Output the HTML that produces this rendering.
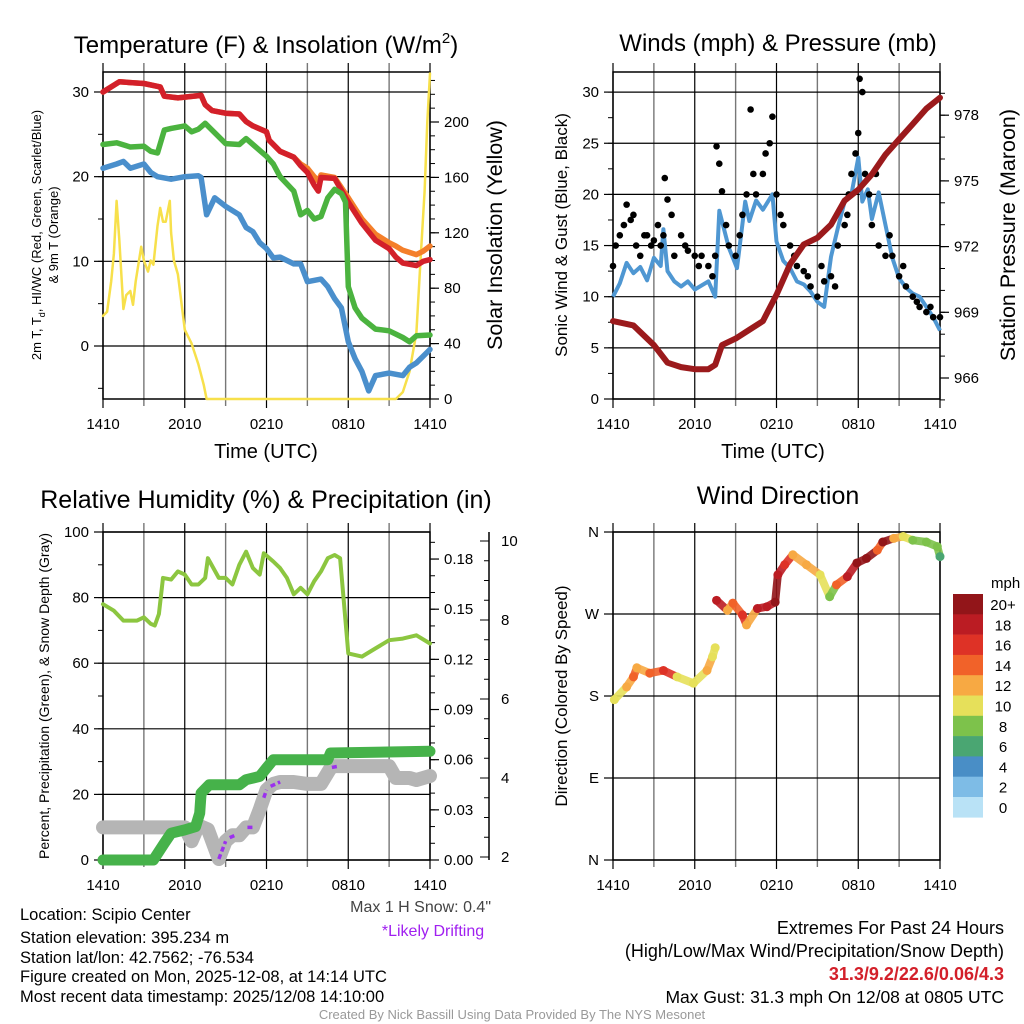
<!DOCTYPE html>
<html><head><meta charset="utf-8"><style>
body{margin:0;background:#fff}
svg{display:block;font-family:"Liberation Sans",sans-serif}
</style></head><body>
<svg id="c" width="1024" height="1024" viewBox="0 0 1024 1024" xmlns="http://www.w3.org/2000/svg"></svg>
<script>
// ---------- DATA ----------
const xTickLabels = ["1410","2010","0210","0810","1410"];
const tempHours = [0,1.2,3,4.2,4.5,5.5,6,7.2,7.5,8,9,10,10.5,11,12,12.2,13,14,14.5,15,15.5,15.8,16,17,18,19,20,21,21.5,22,23,23.5,24];
const tempRed   = [30,31.2,31,30.6,29.5,29.3,29.4,29.6,28.5,27.8,27.5,27.4,26.5,26,25.3,24.3,23,22.3,21.3,20.5,19,18.3,19.9,19.8,17,14.5,12.5,11.5,10.5,9.8,9.5,10,10.2];
const tempOrange= [30,31.2,31,30.6,29.5,29.3,29.4,29.6,28.5,27.8,27.5,27.4,26.5,26,25.3,24.3,23,22.3,21.5,21,20,19.5,20.2,19.9,17.5,15,13.2,12.2,11.8,11.3,10.8,11.2,11.8];
const dewHours = [0,1,2,3,3.5,4,4.5,5,6,6.5,7,7.5,8,9,10,10.5,11,12,12.5,13,14,14.5,15,15.5,16,16.5,17,17.5,17.8,18,18.5,19,20,21,22,22.5,23,24];
const dewGreen = [23.8,24,23.5,23.6,23,22.8,25.5,25.7,26,25.3,25.6,26.3,25.5,23.9,23.8,24.5,23.8,22.4,21.5,20,18.3,15.5,16,15,15.3,17.5,18.5,18,17,7,4.5,3.3,2,1.8,1,0.5,1.2,1.3];
const chillHours = [0,1,1.5,2,3,3.5,4,5,6,7,7.2,7.6,8.2,9,10,10.5,11,11.5,12,12.5,13,14,14.5,15,16,16.5,17,17.5,18,18.5,19,19.5,20,21,22,22.5,23,24];
const chillBlue  = [21,21.5,21.8,21,21.5,20.5,20,19.7,20,20.1,19.9,15.5,17.5,16.5,15.5,14,13.5,12.2,11.5,10.4,10.5,9.7,9.7,7.6,7.9,7,5.6,4.5,0.5,-1.5,-3,-5.3,-3.5,-3.2,-3.5,-2.5,-2,-0.4];
const solarHours = [0,0.3,0.6,0.8,1,1.2,1.5,1.7,2,2.2,2.4,2.8,3,3.3,3.5,3.7,4,4.2,4.4,4.6,4.9,5,5.2,5.5,6,6.5,7,7.4,7.6,12,21.5,22,22.5,23,23.3,23.6,23.8,24];
const solarVals  = [60,63,85,105,143,115,65,75,78,68,85,110,100,92,100,97,125,138,128,128,143,120,100,90,50,40,25,10,0,0,0,5,20,48,100,150,200,235];
const windHours = [0,0.5,1,1.5,2,2.5,3,3.5,3.7,4,4.5,5,5.5,6,7,7.5,7.8,8.5,9.1,9.7,10,10.5,11,11.7,12,12.5,13,13.5,14,14.5,15,15.5,16,16.5,17,17.5,18,18.3,18.7,19,19.5,20,20.5,21,21.5,22,22.5,23,23.5,24];
const windSonic = [10,11.3,13.3,12.3,12.9,11.6,13.8,13,16.6,12.5,11.5,11,11.5,10.7,11.5,10,18.4,14.8,12.8,19.3,17.4,19.4,18.5,20,15.4,13.5,12.8,11.5,11.2,10.5,9.5,9,13.9,16.7,19.3,20,23.6,19.3,20.5,17.6,20.2,17,13.8,11.8,10.9,10.3,10,9,8,6.7];
const gustHours = [0,0.2,0.5,0.8,1,1.3,1.5,1.7,2,2.3,2.5,2.8,3,3.3,3.5,3.7,3.8,4,4.3,4.5,5,5.3,5.5,6,6.3,6.5,7,7.3,7.5,7.6,7.8,8,8.3,8.5,9,9.3,9.5,9.8,10.1,10.3,10.5,11,11.2,11.5,11.7,12,12.3,12.5,13,13.3,13.5,14,14.3,14.5,15,15.3,15.5,16,16.3,16.5,17,17.2,17.3,17.5,17.8,18,18.1,18.3,18.5,18.8,19,19.3,19.5,20,20.3,20.5,21,21.3,21.5,22,22.3,22.5,23,23.3,23.5,24];
const gustVals  = [13,15,16,17,19,17.5,18,15,14,16,16,15,15.5,17,15,16,21.6,19.5,18,14,16,15,14.5,14,13,14,13,12,14,24.7,23,20.3,17,15,14,16,18,20,28.3,22,20,22,24,25,27.6,20,18,17,15,14,13,12.5,12,11,10,13,11.5,12,11,15,17,18,20,22,24,26,31.3,30,22,20,17,22,15,14,16,14,12,13,11,10,9.5,9,8.5,9,8,8];
const presHours = [0,1.5,3,4,5,6,7,7.5,8,9,10,11,12,13,14,15,16,17,18,19,20,21,22,23,24];
const presVals  = [968.6,968.4,967.5,966.7,966.5,966.4,966.4,966.6,967.5,967.8,968.2,968.6,969.8,971.2,972.1,972.4,973,974.1,974.6,975.3,976.2,976.9,977.6,978.3,978.8];
const rhHours = [0,0.8,1.5,2.5,3,3.5,3.8,4.1,4.4,5,5.5,6,6.5,7,7.5,7.7,8.5,9,9.5,10,10.5,11,11.5,11.8,12.5,13,13.5,14,14.5,15,15.5,16,16.5,17,17.4,18,19,20,21,22,23,24];
const rhVals  = [78,76,73,73,74,72,71.5,75,86,85.5,88,87,84,84,86,92,86,86,84,90,94,89,87,93.5,91,89,86,81,83,81,85,88,92,93,92,63,62,64.5,67,67.5,68.5,66];
const pcpHours = [0,3.7,4.5,5,6,6.8,7.1,7.2,7.8,10,10.5,11.5,12,12.5,16.5,16.7,24];
const pcpVals  = [0,0,0.01,0.016,0.018,0.02,0.028,0.04,0.045,0.045,0.048,0.05,0.055,0.06,0.06,0.064,0.065];
const snowHours = [0,6,6.5,7,7.7,8.5,9,9.5,10,10.5,11,11.5,12,12.5,13,14,15,16,16.7,17,21,21.5,22.5,23,24];
const snowVals  = [2.75,2.75,2.4,2.8,2.7,1.95,2.4,2.55,2.55,2.75,2.75,3.2,3.7,3.85,3.9,3.9,3.85,3.85,4.25,4.3,4.3,4.0,4.0,3.95,4.05];
const driftStart = [8.5,9.3,10.6,11.8,12.3,16.8];
const driftEnd   = [9.0,9.7,11.0,12.0,13.0,17.3];
const dirHours = [0.1,1,1.5,1.75,2.7,3.7,4.7,5.9,6.9,7.3,7.5,7.6,8.4,8.8,9.5,9.8,10.6,11.3,11.9,12.1,12.6,13.2,14.2,15.2,15.9,16.4,17.2,17.9,18.6,19.4,19.8,20.6,21.3,22,23,23.8,24];
const dirDeg   = [176,190,201,211,205,208,201,194,208,223,233,285,274,282,269,258,276,278,283,313,324,335,324,313,289,302,311,326,331,340,349,353,355,351,349,344,333];
const dirSpeed = [10,12,14,12,14,16,10,10,12,10,10,18,12,14,16,12,18,18,20,18,16,12,12,10,8,14,18,20,20,14,20,12,10,8,8,8,6];
const cbLabels = ["20+","18","16","14","12","10","8","6","4","2","0"];
const cbColors = ["#921519","#bb1c23","#de3226","#f16229","#f7a943","#e6e05a","#7dc24b","#4aa672","#498ec6","#7ebce6","#b9e2f6"];

// ---------- HELPERS ----------
const svg=document.getElementById('c');
const NS="http://www.w3.org/2000/svg";
function mk(tag,attrs,parent){const e=document.createElementNS(NS,tag);for(const k in attrs)e.setAttribute(k,attrs[k]);(parent||svg).appendChild(e);return e;}
function txt(s,x,y,size,attrs,parent){const e=mk('text',Object.assign({x:x,y:y,'font-size':size,fill:'#000'},attrs||{}),parent);e.textContent=s;return e;}
function lin(d0,d1,r0,r1){return v=>r0+(v-d0)*(r1-r0)/(d1-d0);}
function pathOf(xs,ys,fx,fy){return xs.map((v,i)=>(i?'L':'M')+fx(v).toFixed(1)+','+fy(ys[i]).toFixed(1)).join('');}
const TICK=15;

function panel(name,L,R,T,B){
  const g=mk('g',{});
  
  
  const fx=lin(0,24,L,R);
  for(let h=0;h<=24;h+=3){
    const x=fx(h);const major=h%6===0;
    const l=mk('line',{x1:x,x2:x,y1:T-9,y2:B+(major?9:7),stroke:major?'#000':'#777','stroke-width':major?1.2:1.4},g);
    
    
  }
  xTickLabels.forEach((s,i)=>{const t=txt(s,fx(i*6),B+30,TICK,{'text-anchor':'middle'},g);
    
    });
  mk('rect',{x:L,y:T,width:R-L,height:B-T,fill:'none',stroke:'#000','stroke-width':1.5},g);
  return {g,fx};
}
function yAxis(g,side,x,fy,majors,minors,labels,T,B,L,R,grid){
  const dir=side==='left'?-1:1;
  minors.forEach(v=>{const y=fy(v);if(y<T-1||y>B+1)return;mk('line',{x1:x,x2:x+dir*5,y1:y,y2:y,stroke:'#000','stroke-width':1},g);});
  majors.forEach((v,i)=>{const y=fy(v);
    mk('line',{x1:x,x2:x+dir*9,y1:y,y2:y,stroke:'#000','stroke-width':1.2},g);
    if(grid) mk('line',{x1:L,x2:R,y1:y,y2:y,stroke:'#000','stroke-width':1.2},g);
    const t=txt(labels[i],x+dir*14,y+5,TICK,{'text-anchor':side==='left'?'end':'start'},g);
    
    
  });
}
function rng(a,b,s){const r=[];for(let v=a;v<=b+1e-9;v+=s)r.push(+v.toFixed(4));return r;}
function rot(s,x,y,size,name){const t=txt(s,x,y,size,{'text-anchor':'middle',transform:`rotate(-90 ${x} ${y})`});return t;}
function title(s,x,y,size,name){const t=txt(s,x,y,size,{'text-anchor':'middle'});return t;}
function tsp(parent,s,attrs){const e=mk('tspan',attrs||{},parent);e.textContent=s;return e;}

// ---------- PANEL 1 ----------
(function(){
  const L=103,R=430,T=72,B=399;
  const {g,fx}=panel('temperature-panel',L,R,T,B);
  const fyT=v=>346-v*8.467;
  const fyS=v=>399-v*1.385;
  yAxis(g,'left',L,fyT,[0,10,20,30],rng(-5,30,5),["0","10","20","30"],T,B,L,R,true);
  yAxis(g,'right',R,fyS,rng(0,200,40),rng(0,230,10),["0","40","80","120","160","200"],T,B,L,R,false);
  const ln=(xs,ys,fyy,col,w,name)=>{const p=mk('path',{d:pathOf(xs,ys,fx,fyy),fill:'none',stroke:col,'stroke-width':w,'stroke-linejoin':'round','stroke-linecap':'round'},g);};
  ln(solarHours,solarVals,fyS,'#f7e04b',2.5,'solar-insolation-line');
  ln(tempHours,tempOrange,fyT,'#f47f2a',5.5,'temp-9m-line');
  ln(tempHours,tempRed,fyT,'#d3202a',5.5,'temp-2m-line');
  ln(dewHours,dewGreen,fyT,'#4bb33f',5.5,'dewpoint-line');
  ln(chillHours,chillBlue,fyT,'#4a8fcc',5.5,'windchill-line');
  const t=mk('text',{x:266,y:53,'font-size':24,'text-anchor':'middle',fill:'#000'});
  
  
  tsp(t,'Temperature (F) & Insolation (W/m');tsp(t,'2',{dy:-10,'font-size':15});tsp(t,')',{dy:10});
  const y1=mk('text',{x:41,y:235,'font-size':13,'text-anchor':'middle',fill:'#000',transform:'rotate(-90 41 235)'});
  
  
  tsp(y1,'2m T, T');tsp(y1,'d',{dy:4,'font-size':9});tsp(y1,', HI/WC (Red, Green, Scarlet/Blue)',{dy:-4});
  rot('& 9m T (Orange)',58,235,13,'temperature-y-title-2');
  rot('Solar Insolation (Yellow)',502,235,21.5,'solar-y-title');
  title('Time (UTC)',266,458,20,'x-axis-title');
})();

// ---------- PANEL 2 ----------
(function(){
  const L=613,R=940,T=72,B=399;
  const {g,fx}=panel('winds-panel',L,R,T,B);
  const fyW=v=>399-v*10.23;
  const fyP=v=>378-(v-966)*21.9;
  yAxis(g,'left',L,fyW,rng(0,30,5),rng(0,32,2.5),["0","5","10","15","20","25","30"],T,B,L,R,true);
  yAxis(g,'right',R,fyP,rng(966,978,3),rng(965,979,1),["966","969","972","975","978"],T,B,L,R,false);
  const p=mk('path',{d:pathOf(windHours,windSonic,fx,fyW),fill:'none',stroke:'#4f97d2','stroke-width':4,'stroke-linejoin':'round'},g);
  
  
  gustHours.forEach((h,i)=>{const c=mk('circle',{cx:fx(h),cy:fyW(gustVals[i]),r:3.3,fill:'#000'},g);
    
    });
  const q=mk('path',{d:pathOf(presHours,presVals,fx,fyP),fill:'none',stroke:'#9b1a1c','stroke-width':6,'stroke-linejoin':'round','stroke-linecap':'round'},g);
  
  
  title('Winds (mph) & Pressure (mb)',778,51,24,'winds-title');
  rot('Sonic Wind & Gust (Blue, Black)',567,235,17,'wind-y-title');
  rot('Station Pressure (Maroon)',1015,235,21.5,'pressure-y-title');
  title('Time (UTC)',773,458,20,'x-axis-title-2');
})();

// ---------- PANEL 3 ----------
(function(){
  const L=103,R=430,T=532,B=860;
  const {g,fx}=panel('humidity-panel',L,R,T,B);
  const fyH=v=>860-v*3.28;
  const fyP=v=>860-v*1672;
  const fyS=v=>857-(v-2)*39.5;
  yAxis(g,'left',L,fyH,rng(0,100,20),rng(0,100,10),["0","20","40","60","80","100"],T,B,L,R,true);
  yAxis(g,'right',R,fyP,rng(0,0.18,0.03),rng(0,0.195,0.01),["0.00","0.03","0.06","0.09","0.12","0.15","0.18"],T,B,L,R,false);
  const ax2=489;
  mk('line',{x1:ax2,x2:ax2,y1:532,y2:860,stroke:'#000','stroke-width':1.5},g);
  rng(2,10,0.5).forEach(v=>mk('line',{x1:ax2,x2:ax2-(v%2===0?9:5),y1:fyS(v),y2:fyS(v),stroke:'#000'},g));
  rng(2,10,2).forEach(v=>{const t=txt(String(v),ax2+12,fyS(v)+5,TICK,{},g);});
  const ln=(xs,ys,fyy,col,w,name)=>{const p=mk('path',{d:pathOf(xs,ys,fx,fyy),fill:'none',stroke:col,'stroke-width':w,'stroke-linejoin':'round','stroke-linecap':'round'},g);};
  ln(snowHours,snowVals,fyS,'#b5b5b5',14,'snow-depth-line');
  ln(pcpHours,pcpVals,fyP,'#46b24a',11,'precip-line');
  const interp=h=>{for(let i=1;i<snowHours.length;i++){if(h<=snowHours[i]){const t=(h-snowHours[i-1])/(snowHours[i]-snowHours[i-1]);return snowVals[i-1]+t*(snowVals[i]-snowVals[i-1]);}}return snowVals[snowVals.length-1];};
  driftStart.forEach((s,i)=>{const e=driftEnd[i];const l=mk('line',{x1:fx(s),y1:fyS(interp(s)),x2:fx(e),y2:fyS(interp(e)),stroke:'#9b30ee','stroke-width':3.5,'stroke-dasharray':'5 3'},g);
    
    });
  ln(rhHours,rhVals,fyH,'#8cc640',4,'rh-line');
  title('Relative Humidity (%) & Precipitation (in)',266,508,25,'humidity-title');
  rot('Percent, Precipitation (Green), & Snow Depth (Gray)',49,696,14,'humidity-y-title');
})();

// ---------- PANEL 4 ----------
(function(){
  const L=613,R=940,T=532,B=860;
  const {g,fx}=panel('wind-direction-panel',L,R,T,B);
  const fy=v=>860-v*0.9111;
  yAxis(g,'left',L,fy,[0,90,180,270,360],[],["N","E","S","W","N"],T,B,L,R,true);
  const col=s=>cbColors[10-Math.min(10,Math.floor(s/2))];
  for(let i=0;i<dirHours.length-1;i++){
    const l=mk('line',{x1:fx(dirHours[i]),y1:fy(dirDeg[i]),x2:fx(dirHours[i+1]),y2:fy(dirDeg[i+1]),stroke:col(dirSpeed[i]),'stroke-width':8,'stroke-linecap':'round','stroke-opacity':0.9},g);
    if(Math.abs(dirDeg[i+1]-dirDeg[i])>40) l.setAttribute('stroke-opacity',0);
    
    
  }
  dirHours.forEach((h,i)=>{const c=mk('circle',{cx:fx(h),cy:fy(dirDeg[i]),r:4.5,fill:col(dirSpeed[i])},g);
    
    });
  title('Wind Direction',778,504,25,'wind-direction-title');
  rot('Direction (Colored By Speed)',567,696,17,'direction-y-title');
  const t=txt('mph',991,588,15,{});
  cbLabels.forEach((s,i)=>{const y=594+i*20.3;
    const r=mk('rect',{x:953,y:y,width:30,height:20.6,fill:cbColors[i]});
    
    
    const l=txt(s,1003,y+16,15,{'text-anchor':'middle'});
    
    });
})();

// ---------- FOOTER ----------
const leftLines=["Location: Scipio Center","Station elevation: 395.234 m","Station lat/lon: 42.7562; -76.534","Figure created on Mon, 2025-12-08, at 14:14 UTC","Most recent data timestamp: 2025/12/08 14:10:00"];
const leftY=[920,943,963,982,1002];
leftLines.forEach((s,i)=>{const t=txt(s,20,leftY[i],16.5);});
let t;
t=txt('Max 1 H Snow: 0.4"',491,912,16,{'text-anchor':'end',fill:'#444'});
t=txt('*Likely Drifting',433,936,16,{'text-anchor':'middle',fill:'#a020f0'});
t=txt('Extremes For Past 24 Hours',1004,934,18,{'text-anchor':'end'});
t=txt('(High/Low/Max Wind/Precipitation/Snow Depth)',1004,957,18,{'text-anchor':'end'});
t=txt('31.3/9.2/22.6/0.06/4.3',1004,980,18,{'text-anchor':'end',fill:'#d3202a','font-weight':'bold'});
t=txt('Max Gust: 31.3 mph On 12/08 at 0805 UTC',1004,1003,17.5,{'text-anchor':'end'});
t=txt('Created By Nick Bassill Using Data Provided By The NYS Mesonet',512,1019,13,{'text-anchor':'middle',fill:'#999'});
</script>
</body></html>
